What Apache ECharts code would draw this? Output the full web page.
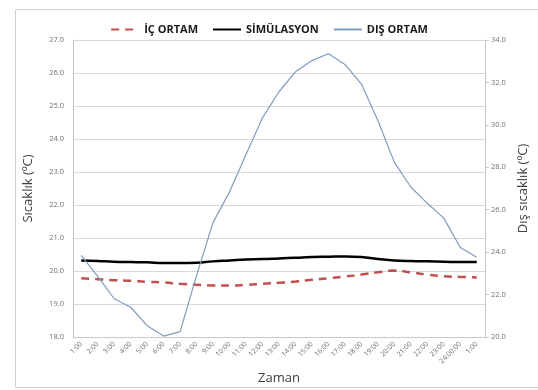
<!DOCTYPE html>
<html><head><meta charset="utf-8">
<script src="https://cdn.jsdelivr.net/npm/echarts@6/dist/echarts.min.js"></script>
<style>html,body{margin:0;padding:0;background:#fff}#c{width:538px;height:390px}</style>
</head><body><div id="c"></div>
<script>
const categories = ['1:00','2:00','3:00','4:00','5:00','6:00','7:00','8:00','9:00','10:00','11:00','12:00','13:00','14:00','15:00','16:00','17:00','18:00','19:00','20:00','21:00','22:00','23:00','24:00:00','1:00'];
const icOrtam = [19.78,19.75,19.72,19.70,19.67,19.65,19.61,19.58,19.56,19.56,19.58,19.61,19.64,19.68,19.73,19.78,19.83,19.89,19.96,20.01,19.96,19.89,19.84,19.82,19.80];
const simulasyon = [20.32,20.30,20.28,20.27,20.26,20.24,20.24,20.25,20.29,20.32,20.35,20.36,20.38,20.40,20.42,20.43,20.44,20.42,20.36,20.32,20.30,20.29,20.28,20.27,20.27];
const disOrtam = [23.84,22.85,21.8,21.4,20.53,20.04,20.25,22.9,25.4,26.84,28.6,30.34,31.56,32.5,33.03,33.35,32.85,31.92,30.2,28.23,27.07,26.3,25.6,24.22,23.76];
const seriesNames = ['İÇ ORTAM','SİMÜLASYON','DIŞ ORTAM'];

const chart = echarts.init(document.getElementById('c'));
const font = 'Open Sans';
chart.setOption({
  animation: false,
  graphic: [{type:'rect', shape:{x:15.5,y:9.5,width:540,height:378}, style:{fill:'none', stroke:'#d0d0d0', lineWidth:1}, silent:true}],
  legend: {
    top: 19, left: 'center', itemGap: 14, itemWidth: 28, itemHeight: 12,
    itemStyle: {opacity: 0},
    textStyle: {fontFamily: font, fontWeight: 'bold', fontSize: 11, color: '#1a1a1a'},
    data: seriesNames
  },
  grid: {left: 73, right: 39, top: 40, bottom: 47},
  xAxis: {
    type: 'category', data: categories, boundaryGap: true,
    name: 'Zaman', nameLocation: 'middle', nameGap: 27,
    nameTextStyle: {fontFamily: font, fontSize: 13, color: '#404040'},
    axisLine: {lineStyle: {color: '#c8c8c8'}},
    axisTick: {show: false},
    axisLabel: {rotate: 45, interval: 0, fontFamily: font, fontSize: 7, color: '#707070', margin: 6}
  },
  yAxis: [{
    type: 'value', min: 18, max: 27, interval: 1, position: 'left',
    name: 'Sıcaklık (ºC)', nameLocation: 'middle', nameGap: 38, nameRotate: 90,
    nameTextStyle: {fontFamily: font, fontSize: 13, color: '#404040'},
    axisLine: {show: true, lineStyle: {color: '#c8c8c8'}},
    axisTick: {show: false},
    splitLine: {lineStyle: {color: '#d9d9d9'}},
    axisLabel: {formatter: v => v.toFixed(1), fontFamily: font, fontSize: 7.5, color: '#707070', margin: 9}
  },{
    type: 'value', min: 20, max: 34, interval: 2, position: 'right',
    name: 'Dış sıcaklık (ºC)', nameLocation: 'middle', nameGap: 32, nameRotate: 90,
    nameTextStyle: {fontFamily: font, fontSize: 13, color: '#404040'},
    axisLine: {show: true, lineStyle: {color: '#c8c8c8'}},
    axisTick: {show: true, length: 4, lineStyle: {color: '#c8c8c8'}},
    splitLine: {show: false},
    axisLabel: {formatter: v => v.toFixed(1), fontFamily: font, fontSize: 7.5, color: '#707070', margin: 6}
  }],
  series: [{
    name: seriesNames[0], type: 'line', yAxisIndex: 0, data: icOrtam, symbol: 'none', smooth: true,
    lineStyle: {color: '#c0504d', width: 2.5, type: [8, 6]}, itemStyle: {color: '#c0504d'}
  },{
    name: seriesNames[1], type: 'line', yAxisIndex: 0, data: simulasyon, symbol: 'none', smooth: true,
    lineStyle: {color: '#000', width: 2.5}, itemStyle: {color: '#000'}
  },{
    name: seriesNames[2], type: 'line', yAxisIndex: 1, data: disOrtam, symbol: 'none',
    lineStyle: {color: '#7f9cbd', width: 1.2}, itemStyle: {color: '#7f9cbd'}
  }]
});
</script></body></html>
